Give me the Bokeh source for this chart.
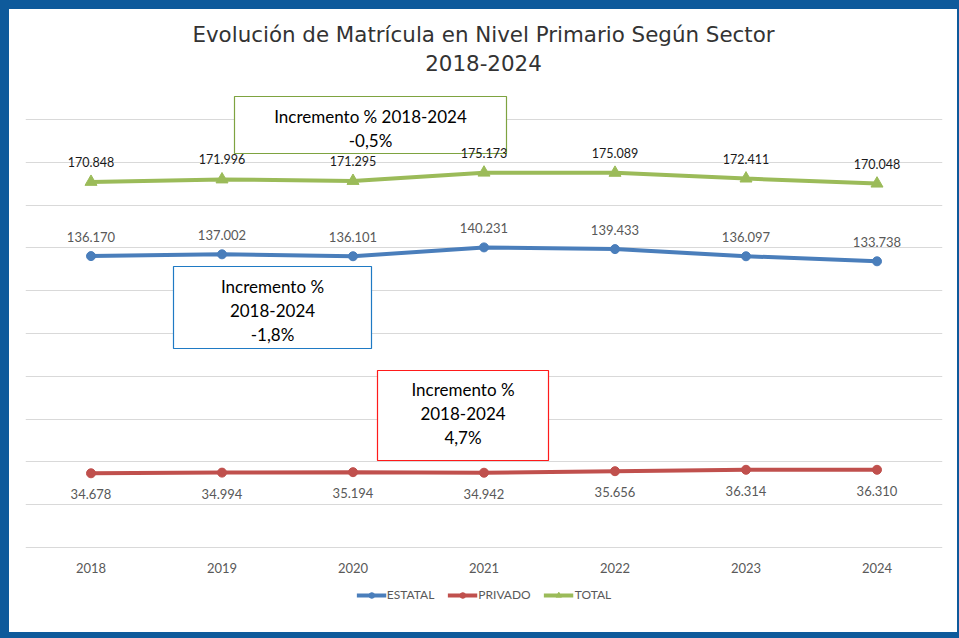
from bokeh.plotting import figure
from bokeh.models import FactorRange, Range1d, FixedTicker, BoxAnnotation, Label, Legend
from bokeh.core.properties import value
from bokeh.embed import file_html
from bokeh.resources import INLINE

years = ["2018", "2019", "2020", "2021", "2022", "2023", "2024"]
estatal = [136170, 137002, 136101, 140231, 139433, 136097, 133738]
privado = [34678, 34994, 35194, 34942, 35656, 36314, 36310]
total = [170848, 171996, 171295, 175173, 175089, 172411, 170048]
grid_ticks = [0, 20000, 40000, 60000, 80000, 100000, 120000, 140000, 160000, 180000, 200000]

title_lines = ["Evolución de Matrícula en Nivel Primario Según Sector", "2018-2024"]
box_texts = {
    "total": ["Incremento % 2018-2024", "-0,5%"],
    "estatal": ["Incremento %", "2018-2024", "-1,8%"],
    "privado": ["Incremento %", "2018-2024", "4,7%"],
}

def fmt(v):
    return f"{v:,}".replace(",", ".")

W, H = 959, 638
ML, MR = 25, 17
FRAME_W = W - ML - MR
FRAME_H = 608
MB = H - FRAME_H
ZERO_PX = 547                     # pixel row of the value 0
UNITS_PER_PX = 20000 / 42.8
CAT_PX = FRAME_W / len(years)

# layout helpers (page px -> data coords, used only for annotation placement)
def sx(px):
    return (px - ML) / CAT_PX
def sy(py):
    return (ZERO_PX - py) * UNITS_PER_PX

p = figure(width=W, height=H, frame_width=FRAME_W, frame_height=FRAME_H,
           x_range=FactorRange(factors=years, range_padding=0),
           y_range=Range1d(sy(FRAME_H), sy(0)), output_backend="svg", toolbar_location=None,
           min_border_left=ML, min_border_right=MR, min_border_top=0, min_border_bottom=MB)
C = "#0E5A9B"
p.styles = {"background-color": "white",
            "box-shadow": f"inset 9px 9px 0 0 {C}, inset -2px -6px 0 0 {C}"}
p.border_fill_color = None
p.background_fill_color = None
p.outline_line_color = None

p.yaxis.visible = False
p.xgrid.visible = False
p.ygrid.ticker = FixedTicker(ticks=grid_ticks)
p.ygrid.grid_line_color = "#D9D9D9"
p.ygrid.grid_line_width = 1

xa = p.xaxis[0]
xa.fixed_location = 0
xa.axis_line_color = None
xa.major_tick_line_color = None
xa.minor_tick_line_color = None
xa.major_label_standoff = 9
xa.major_label_text_font = "Lato"
xa.major_label_text_font_size = "13px"
xa.major_label_text_color = "#595959"

# boxes
def add_box(l, r, t, b, color):
    box = BoxAnnotation(left=sx(l), right=sx(r), top=sy(t), bottom=sy(b),
                        fill_color="white", fill_alpha=1, line_color=color, line_alpha=1,
                        line_width=1.2, level="underlay")
    p.add_layout(box)

add_box(234, 506, 96, 153, "#7EA340")
add_box(173, 371, 266, 348, "#1F7AC4")
add_box(377, 548, 370, 460, "#FF1A1A")

def add_lines(cx, ys, lines):
    for yy, t in zip(ys, lines):
        p.add_layout(Label(x=sx(cx), y=sy(yy), text=t, text_align="center", text_baseline="middle",
                           text_font="Lato", text_font_size="17px", text_color="#000000"))

add_lines(370, [116, 140], box_texts["total"])
add_lines(272, [286, 310, 334], box_texts["estatal"])
add_lines(462.5, [389, 413, 437], box_texts["privado"])

# title
p.add_layout(Label(x=sx(483), y=sy(34), text=title_lines[0], text_align="center", text_baseline="middle",
                   text_font="DejaVu Sans", text_font_size="21.4px", text_color="#333333"))
p.add_layout(Label(x=sx(483), y=sy(62), text=title_lines[1], text_align="center", text_baseline="middle",
                   text_font="DejaVu Sans", text_font_size="21.4px", text_color="#333333"))

series = [
    ("ESTATAL", estatal, "#4A7EBB", "circle", 9, -19, "#595959", "13px"),
    ("PRIVADO", privado, "#C0504D", "circle", 9, 21, "#595959", "13px"),
    ("TOTAL", total, "#9BBB59", "triangle", 12, -20, "#1A1A1A", "12.5px"),
]
items = []
for name, vals, col, mk, sz, off, tcol, fs in series:
    r1 = p.line(years, vals, line_color=col, line_width=4)
    r2 = p.scatter(years, vals, marker=mk, size=sz, fill_color=col, line_color=col)
    p.text(years, vals, text=[fmt(v) for v in vals], y_offset=off, text_align="center",
           text_baseline="middle", text_font=value("Lato"), text_font_size=fs, text_color=tcol)
    items.append((name, [r1, r2]))

legend = Legend(items=items, orientation="horizontal", location="bottom_center",
                border_line_color=None, background_fill_alpha=0,
                label_text_font="Lato", label_text_font_size="12px", label_text_color="#595959",
                glyph_width=30, glyph_height=14, label_height=14, label_standoff=1, spacing=13,
                padding=0, margin=6)
p.add_layout(legend)

open("out.html", "w").write(file_html(p, INLINE))
